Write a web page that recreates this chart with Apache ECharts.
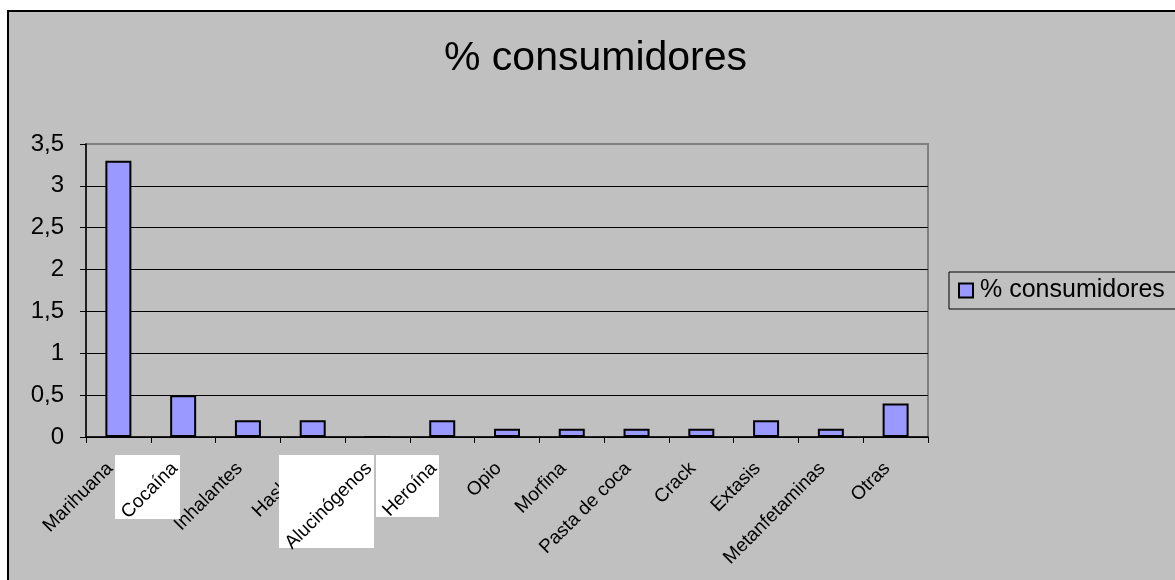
<!DOCTYPE html>
<html>
<head>
<meta charset="utf-8">
<script src="https://cdn.jsdelivr.net/npm/echarts@6/dist/echarts.min.js"></script>
<style>
html,body{margin:0;padding:0;background:#fff;}
#chart{width:1175px;height:580px;}
</style>
</head>
<body>
<div id="chart"></div>
<script>
const titleText = '% consumidores';
const seriesName = '% consumidores';
const categories = ['Marihuana','Cocaína','Inhalantes','Hashish','Alucinógenos','Heroína','Opio','Morfina','Pasta de coca','Crack','Extasis','Metanfetaminas','Otras'];
const values = [3.3, 0.5, 0.2, 0.2, 0, 0.2, 0.1, 0.1, 0.1, 0.1, 0.2, 0.1, 0.4];
const boxedLabels = ['Cocaína','Alucinógenos','Heroína'];
const yMin = 0, yMax = 3.5, yInterval = 0.5;

const FONT = "'Liberation Sans', Arial, sans-serif";
const chart = echarts.init(document.getElementById('chart'), null, {renderer:'canvas'});

const labelBase = {
  rotate: 45,
  interval: 0,
  fontSize: 19,
  fontFamily: FONT,
  color: '#000',
  margin: 20,
  padding: [0, 12, 0, 0]
};

const option = {
  backgroundColor: '#ffffff',
  animation: false,
  title: {
    text: titleText,
    left: 444,
    top: 38,
    padding: 0,
    textStyle: {fontSize: 41, fontWeight: 'normal', fontFamily: FONT, color: '#000'}
  },
  legend: {
    left: 949,
    top: 272,
    orient: 'vertical',
    icon: 'rect',
    itemWidth: 14,
    itemHeight: 14,
    itemGap: 0,
    padding: [6, 40, 6, 9],
    borderColor: '#000',
    borderWidth: 1,
    itemStyle: {color: '#9999FF', borderColor: '#000', borderWidth: 2},
    textStyle: {fontSize: 25, fontFamily: FONT, color: '#000', padding: [0,0,0,2]},
    data: [seriesName]
  },
  graphic: [
    {type:'rect', z:-10, silent:true, shape:{x:8, y:11, width:1200, height:600},
     style:{fill:'#C0C0C0', stroke:'#000', lineWidth:2}},
    {type:'rect', z:2, silent:true, shape:{x:115, y:455, width:65, height:64}, style:{fill:'#fff'}},
    {type:'rect', z:2, silent:true, shape:{x:279, y:455, width:95, height:93}, style:{fill:'#fff'}},
    {type:'rect', z:2, silent:true, shape:{x:376, y:455, width:63, height:62}, style:{fill:'#fff'}}
  ],
  grid: {
    left: 86, right: 247, top: 144, bottom: 143,
    show: true,
    backgroundColor: 'transparent',
    borderColor: '#808080',
    borderWidth: 2
  },
  xAxis: [
    {
      type: 'category',
      data: categories,
      position: 'bottom',
      z: 1,
      boundaryGap: true,
      axisLine: {show: true, lineStyle: {color: '#000', width: 1.5}},
      axisTick: {show: true, inside: false, length: 6, interval: 0, lineStyle: {color: '#000'}},
      axisLabel: Object.assign({}, labelBase, {
        formatter: v => boxedLabels.indexOf(v) >= 0 ? '' : v
      }),
      splitLine: {show: false}
    },
    {
      type: 'category',
      data: categories,
      position: 'bottom',
      z: 3,
      boundaryGap: true,
      axisLine: {show: false},
      axisTick: {show: false},
      axisLabel: Object.assign({}, labelBase, {
        formatter: v => boxedLabels.indexOf(v) >= 0 ? v : ''
      }),
      splitLine: {show: false}
    }
  ],
  yAxis: {
    type: 'value',
    min: yMin, max: yMax, interval: yInterval,
    axisLine: {show: true, lineStyle: {color: '#000', width: 1.5}},
    axisTick: {show: true, inside: false, length: 6, lineStyle: {color: '#000'}},
    axisLabel: {
      fontSize: 24, fontFamily: FONT, color: '#000', margin: 22,
      formatter: v => String(v).replace('.', ',')
    },
    splitLine: {show: true, showMaxLine: false, lineStyle: {color: '#000', width: 1}}
  },
  series: [{
    name: seriesName,
    type: 'bar',
    xAxisIndex: 0,
    data: values,
    barWidth: 26,
    itemStyle: {color: '#9999FF', borderColor: '#000', borderWidth: 2}
  }]
};
chart.setOption(option);
</script>
</body>
</html>
